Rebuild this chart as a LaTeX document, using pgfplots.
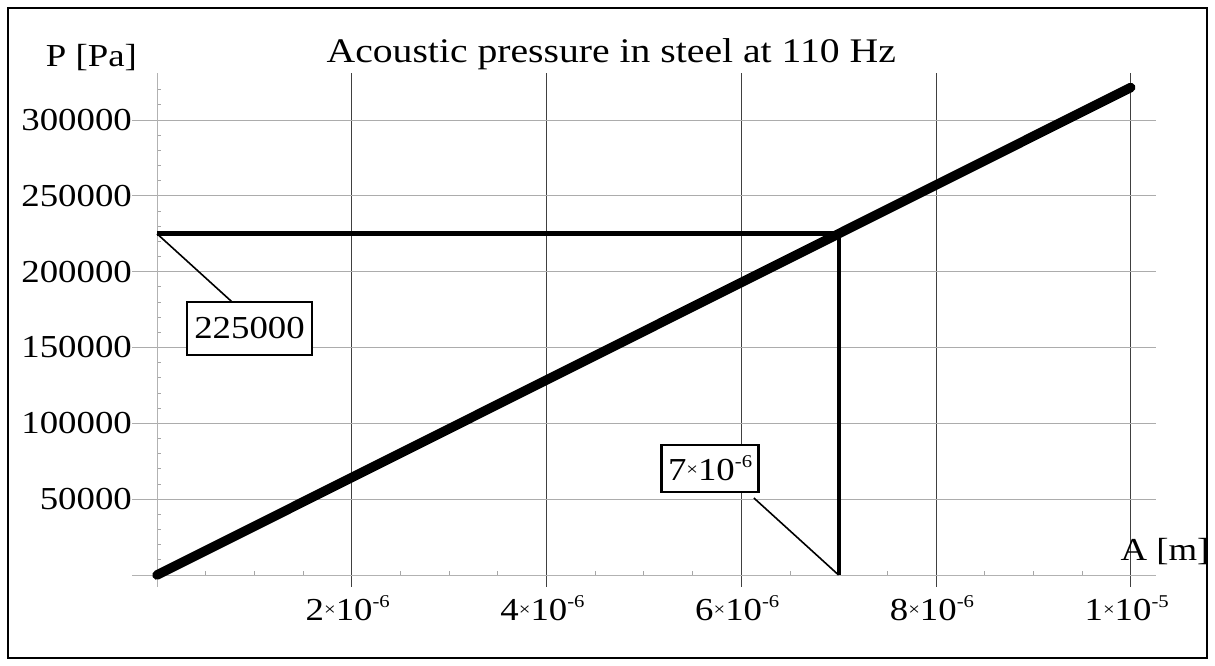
\documentclass[border=0pt]{standalone}
\usepackage{fontspec}
\setmainfont{Liberation Serif}[FakeStretch=1.15]
\usepackage{pgfplots}
\pgfplotsset{compat=1.18}
\newcommand\bigf{\fontsize{32bp}{36bp}\selectfont}
\newcommand\tms{\raisebox{5bp}{\fontsize{18bp}{18bp}\selectfont ×}}
\newcommand\sci[2]{#1\tms 10\raisebox{13bp}{\fontsize{18bp}{18bp}\selectfont -#2}}
\begin{document}
\begin{tikzpicture}
\useasboundingbox (0,0) rectangle (1215bp,666bp);
\draw[line width=2.5bp] (8bp,8bp) rectangle (1207bp,658bp);
\begin{axis}[
  at={(132bp,79bp)}, anchor=south west,
  scale only axis, width=1024bp, height=514bp,
  xmin=-0.257e-6, xmax=10.26e-6, ymin=-7900, ymax=331000,
  scaled x ticks=false, scaled y ticks=false,
  axis lines=center,
  axis line style={-, gray!60, line width=1bp},
  xtick={2e-6,4e-6,6e-6,8e-6,1e-5},
  xticklabels={\sci{2}{6},\sci{4}{6},\sci{6}{6},\sci{8}{6},\sci{1}{5}},
  ytick={50000,100000,150000,200000,250000,300000},
  yticklabels={50000,100000,150000,200000,250000,300000},
  minor xtick={0.5e-6,1e-6,1.5e-6,2.5e-6,3e-6,3.5e-6,4.5e-6,5e-6,5.5e-6,6.5e-6,7e-6,7.5e-6,8.5e-6,9e-6,9.5e-6},
  minor ytick={10000,20000,30000,40000,60000,70000,80000,90000,110000,120000,130000,140000,160000,170000,180000,190000,210000,220000,230000,240000,260000,270000,280000,290000,310000,320000},
  major tick length=0pt, minor tick length=4bp, tick align=inside,
  tick style={gray!70, line width=0.8bp},
  grid=major,
  every axis x grid/.append style={black!75, line width=0.8bp},
  every axis y grid/.append style={gray!65, line width=1bp},
  xticklabel style={font=\bigf, anchor=base, inner sep=0pt, yshift=-45bp, xshift=-4bp},
  yticklabel style={font=\bigf, anchor=east, inner sep=0pt, xshift=-25bp},
  title={Acoustic pressure in steel at 110 Hz},
  title style={font=\fontsize{34.5bp}{40bp}\selectfont, at={(axis description cs:0.468,1.0097)}, anchor=base, inner sep=0pt},
  xlabel={A [m]}, ylabel={P [Pa]},
  every axis x label/.style={at={(axis description cs:1.0088,0.0525)}, anchor=base, inner sep=0pt, font=\bigf},
  every axis y label/.style={at={(axis description cs:-0.0396,1.0117)}, anchor=base, inner sep=0pt, font=\bigf},
  clip=false,
]
\addplot[black, line width=9.5bp, line cap=round] coordinates {(0,0) (1e-5,321430)};
\addplot[black, line width=5bp] coordinates {(0,225000) (7e-6,225000)};
\addplot[black, line width=4bp] coordinates {(7e-6,225000) (7e-6,0)};
\addplot[black, line width=1.6bp] coordinates {(0,225000) (0.77e-6,180080)};
\addplot[black, line width=1.6bp] coordinates {(7e-6,0) (6.13e-6,50790)};
\node[draw, fill=white, line width=2.5bp, minimum width=125bp, minimum height=53bp, inner sep=0pt, font=\bigf] at (axis cs:0.95e-6,162600) {225000};
\node[draw, fill=white, line width=2.5bp, minimum width=97bp, minimum height=47bp, inner sep=0pt, font=\bigf] at (axis cs:5.68e-6,70250) {\sci{7}{6}};
\end{axis}
\end{tikzpicture}
\end{document}
